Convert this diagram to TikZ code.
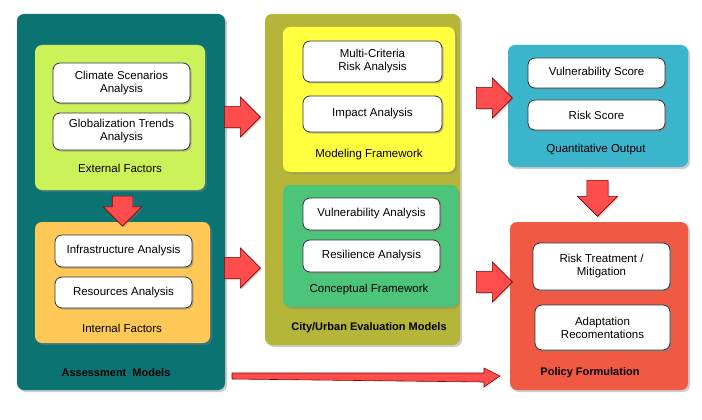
\documentclass[tikz,border=0pt]{standalone}
\usepackage{fontspec}
\setmainfont{Liberation Sans}
\usetikzlibrary{shapes.arrows,shadows,calc}
\begin{document}
\begin{tikzpicture}[x=1pt,y=-1pt,
  panel/.style={rounded corners=7pt,drop shadow={opacity=0.4,shadow xshift=2pt,shadow yshift=-2pt}},
  item/.style={draw=black!80,line width=0.8pt,fill=white,rounded corners=7pt,align=center,
    font=\fontsize{11.5}{13}\selectfont,drop shadow={opacity=0.5,shadow xshift=1.5pt,shadow yshift=-1.5pt}},
  lbl/.style={font=\fontsize{11.5}{13}\selectfont},
  blbl/.style={font=\bfseries\fontsize{11}{13}\selectfont},
  blk/.style={single arrow,draw=red!50!black,fill=red!70!white,line width=0.6pt,
    minimum height=36pt,minimum width=40pt,single arrow head extend=9pt,inner xsep=0pt,inner ysep=10pt,
    drop shadow={opacity=0.35,shadow xshift=1.5pt,shadow yshift=-1.5pt}},
]
\useasboundingbox (0,0) rectangle (702,420);
\fill[white] (0,0) rectangle (702,420);
% panels
\fill[panel,fill={rgb,255:red,12;green,115;blue,115}] (17,14) rectangle (225,390);
\fill[panel,fill={rgb,255:red,204;green,242;blue,90}] (35,45) rectangle (205,190);
\fill[panel,fill={rgb,255:red,255;green,200;blue,87}] (35,222) rectangle (210,343);
\fill[panel,fill={rgb,255:red,181;green,181;blue,58}] (265,14) rectangle (460,345);
\fill[panel,fill={rgb,255:red,255;green,255;blue,64}] (283,27) rectangle (455,172);
\fill[panel,fill={rgb,255:red,76;green,196;blue,122}] (283,185) rectangle (458,307);
\fill[panel,fill={rgb,255:red,59;green,181;blue,204}] (508,45) rectangle (688,167);
\fill[panel,fill={rgb,255:red,240;green,90;blue,69}] (510,222) rectangle (688,390);
% items
\node[item,minimum width=137pt,minimum height=40pt] (cs) at (121.5,83) {Climate Scenarios\\Analysis};
\node[item,minimum width=137pt,minimum height=37pt] (gt) at (121.5,131.5) {Globalization Trends\\Analysis};
\node[lbl] (ef) at (120,168) {External Factors};
\node[item,minimum width=137pt,minimum height=32pt] (ia) at (123.5,251) {Infrastructure Analysis};
\node[item,minimum width=137pt,minimum height=31pt] (ra) at (123.5,292.5) {Resources Analysis};
\node[lbl] (if) at (122,328) {Internal Factors};
\node[blbl] (am) at (116,373) {Assessment\ \ Models};
\node[item,minimum width=139pt,minimum height=41pt] (mc) at (372.5,61.5) {Multi-Criteria\\Risk Analysis};
\node[item,minimum width=139pt,minimum height=36pt] (im) at (372.5,114) {Impact Analysis};
\node[lbl] (mf) at (369,155) {Modeling Framework};
\node[item,minimum width=137pt,minimum height=32pt] (va) at (371.5,214) {Vulnerability Analysis};
\node[item,minimum width=137pt,minimum height=32pt] (rs) at (371.5,256) {Resilience Analysis};
\node[lbl] (cf) at (369,290) {Conceptual Framework};
\node[blbl] (ce) at (369,328) {City/Urban Evaluation Models};
\node[item,minimum width=137pt,minimum height=30pt] (vs) at (596.5,73) {Vulnerability Score};
\node[item,minimum width=137pt,minimum height=30pt] (rsc) at (596.5,115) {Risk Score};
\node[lbl] (qo) at (596,150) {Quantitative Output};
\node[item,minimum width=137pt,minimum height=47pt] (rt) at (601.5,266.5) {Risk Treatment /\\Mitigation};
\node[item,minimum width=135pt,minimum height=45pt] (ad) at (602.5,327.5) {Adaptation\\Recomentations};
\node[blbl] (pf) at (590,373) {Policy Formulation};
% block arrows
\node[blk,rotate=-90,minimum height=30pt,minimum width=38pt] (a1) at (122.5,206) {};
\node[blk] (a2) at (237,117) {};
\node[blk] (a3) at (237,268) {};
\node[blk] (a4) at (489,98) {};
\node[blk] (a5) at (489,282) {};
\node[blk,rotate=-90] (a6) at (597.5,193) {};
% long arrow
\coordinate (s) at (232,376);
\coordinate (e) at (500,376);
\draw[red!50!black,fill=red!70!white,line width=0.6pt]
  ($(s)+(0,-3)$) -- ($(e)+(-16,-3)$) -- ++(0,-5) -- (e) -- ++(-16,11) -- ++(0,-5) -- ($(s)+(0,3)$) -- cycle;
\end{tikzpicture}
\end{document}
